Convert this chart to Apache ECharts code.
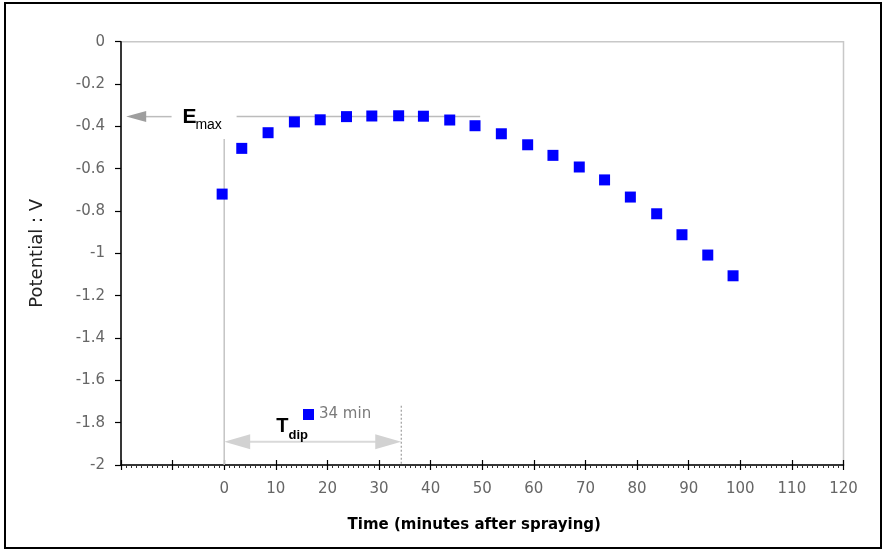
<!DOCTYPE html>
<html>
<head>
<meta charset="utf-8">
<script src="https://cdn.jsdelivr.net/npm/echarts@6/dist/echarts.min.js"></script>
<style>
html,body{margin:0;padding:0;background:#fff;}
#wrap{position:relative;width:883px;height:550px;}
#chart{position:absolute;left:0;top:0;width:883px;height:550px;}
#frame{position:absolute;left:4px;top:2px;width:878px;height:547px;box-sizing:border-box;border:2px solid #000;pointer-events:none;}
</style>
</head>
<body>
<div id="wrap"><div id="chart"></div><div id="frame"></div></div>
<script>
// Data
var timeMin = [-0.4, 3.4, 8.5, 13.6, 18.6, 23.7, 28.6, 33.8, 38.6, 43.7, 48.6, 53.7, 58.8, 63.7, 68.8, 73.7, 78.7, 83.8, 88.7, 93.7, 98.6];
var potentialV = [-0.720, -0.504, -0.430, -0.379, -0.369, -0.354, -0.351, -0.350, -0.352, -0.370, -0.397, -0.435, -0.487, -0.537, -0.592, -0.653, -0.734, -0.813, -0.912, -1.008, -1.106];
var seriesName = '34 min';
var xTickLabels = ['0','10','20','30','40','50','60','70','80','90','100','110','120'];
var yTickLabels = ['0','-0.2','-0.4','-0.6','-0.8','-1','-1.2','-1.4','-1.6','-1.8','-2'];

// Annotation values (in data units)
var emaxLevel = -0.354;
var emaxArrow = [-19, -10.2];     // left arrow span
var emaxLine = [2.4, 49.6];       // right guide line span
var emaxLabelAt = [-8.1, -0.357];
var startLineTop = -0.46;
var tdipValue = 34.3;
var tdipLevel = -1.89;
var tdipDashTop = -1.72;
var tdipLabelAt = [10.1, -1.818];

var points = timeMin.map(function (t, i) { return [t, potentialV[i]]; });

var FONT = 'DejaVu Sans, Verdana, sans-serif';
var FONT2 = 'Liberation Sans, Arial, sans-serif';

function arrowHead(tip, dir, len, half, fill) {
  return {
    type: 'polygon',
    shape: { points: [[tip[0], tip[1]], [tip[0] + dir * len, tip[1] - half], [tip[0] + dir * len, tip[1] + half]] },
    style: { fill: fill, stroke: null }
  };
}
function seg(a, b, color, w, dash) {
  return {
    type: 'line',
    shape: { x1: a[0], y1: a[1], x2: b[0], y2: b[1] },
    style: { stroke: color, lineWidth: w, lineDash: dash || null }
  };
}

var chart = echarts.init(document.getElementById('chart'), null, { renderer: 'canvas' });
var gridTop = 41.7, gridBottom = 85;
var gridHeight = 550 - gridTop - gridBottom;
var option = {
  animation: false,
  backgroundColor: '#fff',
  textStyle: { fontFamily: FONT },
  grid: {
    left: 121, right: 39.5, top: gridTop, bottom: gridBottom,
    show: true, borderColor: '#c8c8c8', borderWidth: 1.5, backgroundColor: 'transparent'
  },
  legend: {
    data: [seriesName],
    left: 298, top: 402,
    icon: 'rect', itemWidth: 11, itemHeight: 11,
    textStyle: { fontSize: 15, color: '#7a7a7a', fontFamily: FONT }
  },
  xAxis: [{
    type: 'value', min: -20, max: 120, interval: 10, position: 'bottom',
    axisLine: { show: true, onZero: false, lineStyle: { color: '#000', width: 1.5 } },
    axisTick: { show: true, inside: false, length: 5, lineStyle: { color: '#000', width: 1.2 } },
    minorTick: { show: true, splitNumber: 10, length: 3, lineStyle: { color: '#333', width: 1 } },
    splitLine: { show: false },
    axisLabel: {
      margin: 17, fontSize: 15, color: '#666', fontFamily: FONT,
      formatter: function (v) { return v < 0 ? '' : xTickLabels[Math.round(v / 10)]; }
    },
    name: 'Time (minutes after spraying)',
    nameLocation: 'middle', nameGap: 53,
    nameTextStyle: { fontSize: 15, fontWeight: 'bold', color: '#000', fontFamily: FONT, padding: [0, 16, 0, 0] }
  }, {
    // second copy of the axis ticks so the major ticks cross the axis line
    type: 'value', min: -20, max: 120, interval: 10, position: 'top', offset: -gridHeight,
    axisLine: { show: false },
    axisTick: { show: true, inside: false, length: 5, lineStyle: { color: '#000', width: 1.2 } },
    axisLabel: { show: false },
    splitLine: { show: false }
  }],
  yAxis: {
    type: 'value', min: -2, max: 0, interval: 0.2,
    axisLine: { show: true, onZero: false, lineStyle: { color: '#000', width: 1.5 } },
    axisTick: { show: true, inside: false, length: 6, lineStyle: { color: '#000', width: 1.2 } },
    splitLine: { show: false },
    axisLabel: {
      margin: 16, fontSize: 15, color: '#666', fontFamily: FONT,
      formatter: function (v) { return yTickLabels[Math.round(-v / 0.2)]; }
    },
    name: 'Potential : V',
    nameLocation: 'middle', nameGap: 75,
    nameTextStyle: { fontSize: 18, color: '#222', fontFamily: FONT }
  },
  series: [{
    name: seriesName,
    type: 'scatter',
    data: points,
    symbol: 'rect',
    symbolSize: 11,
    itemStyle: { color: '#0000ff', opacity: 1 },
    z: 5
  }, {
    name: 'annotations',
    type: 'custom',
    data: [[0, 0]],
    clip: false,
    silent: true,
    z: 3,
    renderItem: function (params, api) {
      var eL = api.coord([emaxArrow[0], emaxLevel]);
      var eR = api.coord([emaxArrow[1], emaxLevel]);
      var g1 = api.coord([emaxLine[0], emaxLevel]);
      var g2 = api.coord([emaxLine[1], emaxLevel]);
      var v1 = api.coord([0, startLineTop]);
      var v2 = api.coord([0, -2]);
      var t1 = api.coord([0, tdipLevel]);
      var t2 = api.coord([tdipValue, tdipLevel]);
      var d1 = api.coord([tdipValue, tdipDashTop]);
      var d2 = api.coord([tdipValue, -2]);
      var eT = api.coord(emaxLabelAt);
      var tT = api.coord(tdipLabelAt);
      return {
        type: 'group',
        children: [
          seg([eL[0] + 18, eL[1]], eR, '#bcbcbc', 1.5),
          arrowHead(eL, 1, 20, 5.5, '#9e9e9e'),
          seg(g1, g2, '#bcbcbc', 1.5),
          seg(v1, v2, '#c4c4c4', 1.5),
          seg([t1[0] + 24, t1[1]], [t2[0] - 24, t2[1]], '#d9d9d9', 2),
          arrowHead(t1, 1, 26, 7.5, '#d2d2d2'),
          arrowHead(t2, -1, 26, 7.5, '#d2d2d2'),
          seg(d1, d2, '#8a8a8a', 1, [2, 2]),
          {
            type: 'text', x: eT[0], y: eT[1],
            style: {
              text: '{a|E}{b|max}', align: 'left', verticalAlign: 'middle',
              rich: {
                a: { fontSize: 21, fontWeight: 'bold', fill: '#000', fontFamily: FONT2, verticalAlign: 'bottom' },
                b: { fontSize: 14, fill: '#000', fontFamily: FONT2, verticalAlign: 'bottom', padding: [0, 0, -4, -1] }
              }
            }
          },
          {
            type: 'text', x: tT[0], y: tT[1],
            style: {
              text: '{a|T}{b|dip}', align: 'left', verticalAlign: 'middle',
              rich: {
                a: { fontSize: 20, fontWeight: 'bold', fill: '#000', fontFamily: FONT2, verticalAlign: 'bottom' },
                b: { fontSize: 13, fontWeight: 'bold', fill: '#000', fontFamily: FONT2, verticalAlign: 'bottom', padding: [0, 0, -5, 0] }
              }
            }
          }
        ]
      };
    }
  }]
};
chart.setOption(option);
</script>
</body>
</html>
